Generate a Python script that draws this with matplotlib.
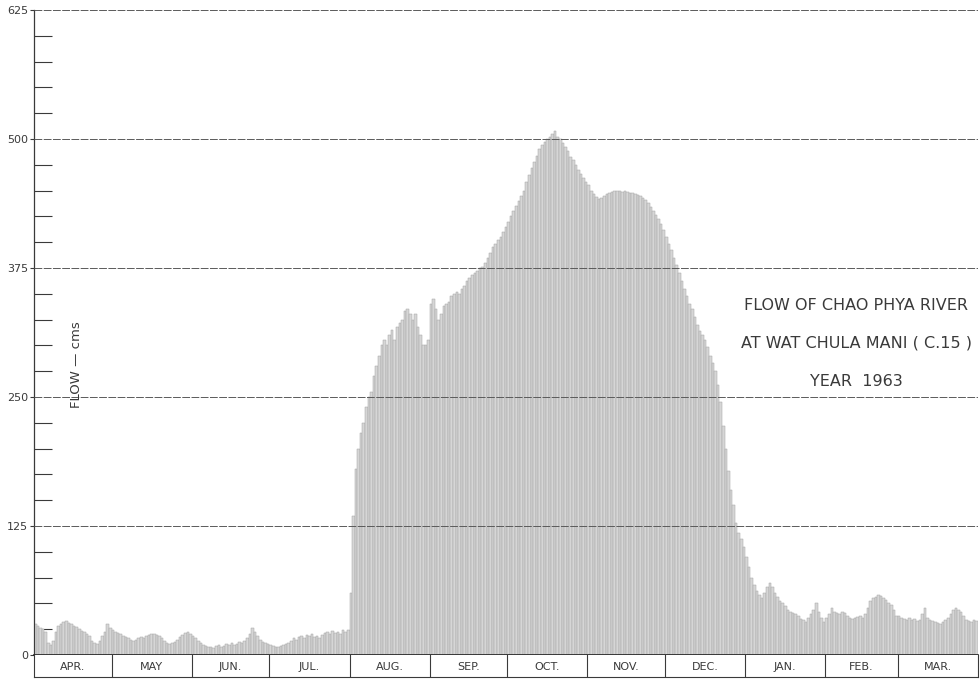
import numpy as np
import matplotlib
matplotlib.use("Agg")
import matplotlib.pyplot as plt

# daily flow (cms), water year April 1963 - March 1964
apr = [30, 28, 26, 25, 22, 12, 10, 14, 22, 28, 30, 32, 33, 31, 30, 28, 27, 25, 23, 22,
       20, 18, 14, 12, 11, 14, 18, 22, 30, 26]
may = [24, 22, 21, 20, 18, 17, 16, 15, 14, 15, 16, 17, 16, 18, 19, 20, 20, 19, 18, 16,
       14, 12, 11, 12, 13, 15, 17, 19, 21, 22, 20]
jun = [18, 16, 14, 12, 10, 9, 8, 8, 7, 9, 10, 8, 9, 11, 10, 12, 10, 11, 13, 12,
       14, 16, 20, 26, 22, 18, 15, 13, 12, 11]
jul = [10, 9, 8, 8, 9, 10, 11, 12, 14, 16, 15, 17, 18, 16, 19, 18, 20, 17, 18, 16,
       19, 21, 22, 20, 23, 21, 22, 20, 24, 22, 24]
aug = [60, 135, 180, 200, 215, 225, 240, 250, 255, 270, 280, 290, 300, 305, 300, 310,
       315, 305, 318, 322, 325, 333, 335, 330, 325, 330, 318, 310, 300, 300, 305]
sep = [340, 345, 335, 325, 330, 338, 340, 342, 348, 350, 352, 350, 355, 358, 362, 365,
       368, 370, 372, 375, 376, 380, 385, 390, 395, 398, 402, 405, 410, 415]
oct_ = [420, 425, 430, 435, 440, 445, 450, 458, 465, 472, 478, 484, 490, 494, 497, 500,
        502, 505, 508, 502, 500, 496, 492, 488, 483, 480, 475, 470, 466, 462, 458]
nov = [455, 450, 447, 444, 442, 443, 445, 447, 448, 449, 450, 450, 450, 449, 450, 449,
       448, 448, 447, 446, 445, 443, 441, 438, 434, 430, 426, 422, 418, 412]
dec = [405, 398, 392, 385, 378, 370, 362, 355, 348, 340, 335, 328, 320, 314, 310, 305,
       298, 290, 283, 275, 262, 245, 222, 200, 178, 160, 145, 128, 118, 112, 105]
jan = [95, 85, 75, 68, 62, 58, 55, 60, 66, 70, 66, 60, 56, 52, 50, 47, 44, 42, 41, 40,
       38, 35, 34, 32, 36, 40, 44, 50, 42, 36, 32]
feb = [36, 40, 46, 42, 41, 40, 42, 41, 38, 36, 35, 36, 37, 38, 36, 40, 46, 52, 55, 56,
       58, 57, 55, 53, 50, 48, 44, 38]
mar = [38, 36, 35, 34, 36, 34, 35, 33, 34, 40, 46, 36, 34, 33, 32, 31, 30, 32, 34, 36,
       40, 44, 46, 44, 42, 38, 34, 33, 32, 34, 33]

months = ["APR.", "MAY", "JUN.", "JUL.", "AUG.", "SEP.", "OCT.", "NOV.", "DEC.",
          "JAN.", "FEB.", "MAR."]
month_data = [apr, may, jun, jul, aug, sep, oct_, nov, dec, jan, feb, mar]
y_ticks = [0, 125, 250, 375, 500, 625]

flow = np.concatenate([np.array(m, dtype=float) for m in month_data])
lengths = [len(m) for m in month_data]
bounds = np.concatenate([[0], np.cumsum(lengths)])
ndays = len(flow)
days = np.arange(ndays) + 0.5

ink = "#3a3a3a"
fig = plt.figure(figsize=(9.8, 6.8), dpi=100)
ax = fig.add_axes([34 / 980, 25 / 680, 944 / 980, 645 / 680])

# daily bars, stippled grey like the original
ax.bar(days, flow, width=1.0, color="#d6d6d6", edgecolor="#a4a4a4", linewidth=0.35, zorder=2)

ax.set_xlim(0, ndays)
ax.set_ylim(0, 625)
ax.set_yticks(y_ticks)
ax.set_yticks(np.arange(0, 626, 25), minor=True)
ax.set_xticks([])
for v in y_ticks[1:]:
    ax.axhline(v, color="#5a5a5a", lw=0.7, ls=(0, (8, 1.5)), zorder=3)

ax.tick_params(axis="y", which="major", direction="out", length=3, width=0.8,
               colors=ink, labelsize=8, pad=1)
ax.tick_params(axis="y", which="minor", direction="in", length=13, width=0.8, color=ink)
for s in ["top", "right"]:
    ax.spines[s].set_visible(False)
ax.spines["left"].set_color(ink)
ax.spines["left"].set_linewidth(0.9)
ax.spines["left"].set_linestyle((0, (8, 1)))
ax.spines["bottom"].set_color("#222222")
ax.spines["bottom"].set_linewidth(1.2)
ax.axvline(ndays, color="#909090", lw=0.6, ls=(0, (4, 2)), ymax=1.0)

# month strip below the chart
mx = fig.add_axes([34 / 980, 3 / 680, 944 / 980, 22 / 680])
mx.set_xlim(0, ndays)
mx.set_ylim(0, 1)
mx.set_xticks([])
mx.set_yticks([])
for s in mx.spines.values():
    s.set_color(ink)
    s.set_linewidth(0.8)
mx.spines["top"].set_visible(False)
for b in bounds[1:-1]:
    mx.axvline(b, color=ink, lw=0.8)
for i, name in enumerate(months):
    mx.text((bounds[i] + bounds[i + 1]) / 2, 0.45, name, ha="center", va="center",
            fontsize=8, color=ink)

fig.text(76 / 980, 1 - 365 / 680, "FLOW — cms", rotation=90, ha="center", va="center",
         fontsize=9.5, color=ink)
title_lines = ["FLOW OF CHAO PHYA RIVER", "AT WAT CHULA MANI ( C.15 )", "YEAR  1963"]
for k, line in enumerate(title_lines):
    fig.text(856 / 980, 1 - (305 + 38 * k) / 680, line, ha="center", va="center",
             fontsize=11.5, color=ink)

fig.savefig("out.png", dpi=100, facecolor="white")
